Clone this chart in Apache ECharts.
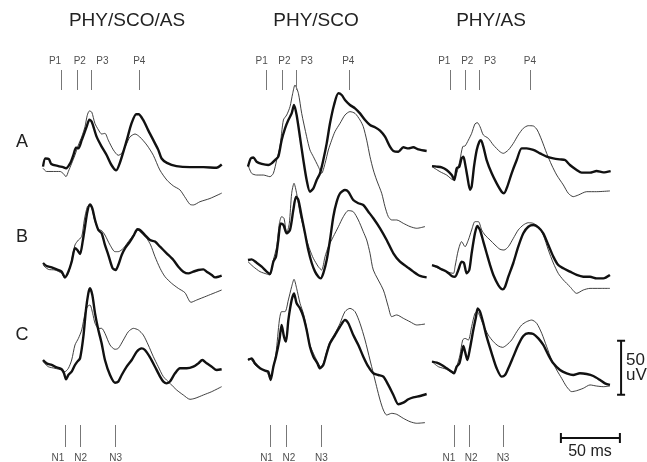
<!DOCTYPE html>
<html>
<head>
<meta charset="utf-8">
<script src="https://cdn.jsdelivr.net/npm/echarts@6/dist/echarts.min.js"></script>
<style>
html,body{margin:0;padding:0;background:#fff;}
#chart{width:647px;height:462px;}
</style>
</head>
<body>
<div id="chart"></div>
<script>
// conditions (columns) and recordings (rows)
var conditions = ['PHY/SCO/AS', 'PHY/SCO', 'PHY/AS'];
var rowNames = ['A', 'B', 'C'];
var peakNames = ['P1', 'P2', 'P3', 'P4'];
var troughNames = ['N1', 'N2', 'N3'];

// latency of the marker ticks (ms from trace start), one list per column
var peakTicks = [[15.3, 29.4, 41, 81.6], [15.8, 29, 41.3, 85.9], [15.8, 28.2, 40.1, 83]];
var peakLabelAt = [[10.2, 31.2, 50.4, 81.6], [11.6, 30.8, 49.8, 85], [10.4, 29.9, 49.2, 83]];
var troughTicks = [[18.8, 31.2, 60.9], [19.2, 32.5, 62.3], [19, 31.4, 60.2]];
var troughLabelAt = [[12.6, 31.9, 61.6], [15.7, 34.7, 62.3], [14.4, 33.1, 60.2]];

// scale bars
var scaleMs = 50;
var scaleUv = 50;

// waveforms: [ms, uV], thick = first trace, thin = second trace
var thickA1 = [[0,-1.5],[2,6],[5,5.5],[7,1],[13,-1],[17,-2],[19.5,-3],[23,1.5],[25.7,9],[28,16],[30,15.5],[32.8,23],[37,35.5],[39.3,42],[41.3,40],[45.5,26],[49.7,17],[54,9],[58,0],[62,-5],[65,1.5],[71,23],[75,38.5],[79,47],[81,47],[85,41.5],[89,32.5],[93.5,23],[97.7,14],[100.5,6],[105,2],[113,-1],[124.5,-2],[136,-2],[147,-2.5],[151.5,0.5]];
var thinA1 = [[0,-3],[3,-6],[9,-6],[14.4,-6],[17,-7.7],[19.5,-10.8],[21.5,-6],[24.3,1.5],[27,9],[30,18.5],[32.8,26],[35.6,35.5],[37.5,46],[39.3,50],[41.3,49],[44,38.5],[47,32.5],[49.7,28.7],[52.5,29.3],[55.3,23],[59.6,14],[63.8,9],[66.7,10.8],[71,20],[73.7,26],[78,28.7],[82,26],[88,18.5],[93.5,9],[99,-4.6],[105,-14],[110.5,-19.4],[116,-23],[120,-29.3],[124.5,-36.4],[127.4,-37],[133,-34],[141.5,-31],[151.5,-26]];
var thickA2 = [[0,-1.5],[2.3,6],[4.5,7],[7.3,3],[11.6,1],[17.2,0],[20,1.5],[22.9,4.6],[25.7,7.7],[28.5,23],[31.4,34],[34.2,41.7],[37,47.8],[39,55.6],[41.2,46.3],[44,26.2],[46.9,4.6],[49.7,-13.9],[52.5,-24.7],[55.4,-21.6],[58.2,-13.9],[61,-7.7],[63.8,4.6],[66.7,20],[69.5,38.6],[72.9,55.6],[76.6,66.4],[79.4,64.8],[82.2,60.2],[86.4,55.6],[90.7,52.5],[94.9,47.8],[99.2,41.7],[103.4,37],[107.6,34.9],[111.9,31.8],[116.1,26.2],[120.3,17],[123.2,13],[127.4,12.3],[131.6,16.4],[135.9,15.4],[140,16.4],[144.4,14.5],[151.4,13]];
var thinA2 = [[0,0],[3.1,-7.7],[7.3,-9.3],[13,-9.3],[18.6,-10.8],[21.5,-7.7],[24.3,4.6],[27.1,17],[30,41.7],[32.8,46.3],[35.6,54],[37.9,66.4],[39.8,74],[42.7,66.4],[45.5,47.8],[49.7,26.2],[52.5,13.9],[55.4,7.7],[59.6,-1.5],[62.4,-7.7],[65.3,1.5],[68.1,13.9],[70.9,23],[73.7,30.9],[78,38.6],[82.2,46.3],[86.4,49.4],[90.7,47.8],[94.9,41.7],[97.7,35.5],[100.6,23],[103.4,7.7],[106.2,-4.6],[109,-13.9],[113.3,-26.2],[116.1,-38.6],[118.9,-47.8],[121.8,-50.9],[126,-50.9],[131.6,-54],[137.3,-57],[143,-58.6],[150,-57]];
var thickA3 = [[0,-1],[4,-1.5],[8.2,-2.2],[12.4,-4.6],[16.7,-9.3],[18.9,-13.9],[20.9,-3.1],[23.2,-1.5],[25.1,6.2],[26.6,7.7],[28,1.5],[30,-10.8],[32.2,-23],[33.6,-20],[35.6,-1.5],[37.9,13.9],[40.1,21.6],[41.5,23],[43.5,17],[46.3,4.6],[50.6,-7.7],[54.8,-17],[59,-24.7],[61,-26.2],[63.8,-20],[67.5,-7.7],[71.8,4.6],[76,15.4],[80.2,15.4],[85.9,13.9],[91.5,10.8],[97.2,7.7],[102.8,6.2],[108.5,5.2],[112.7,4.6],[116.9,0],[122.6,-4.6],[126.8,-7.1],[133.9,-7.1],[139.5,-5.6],[145.2,-6.8],[151.4,-5.6]];
var thinA3 = [[0,-1.5],[6.8,-6.2],[12.4,-9.3],[18.1,-13.9],[20.9,-7.7],[23.7,4.6],[26,17],[28,17.6],[30.8,23],[33.6,29.3],[36.4,38],[38.4,39.2],[40.7,35.5],[43.5,27.8],[47.7,24.7],[52,18.5],[57.6,12.3],[60.4,10.8],[64.7,13.9],[68.9,20],[73.1,27.8],[77.4,34],[81.6,36.4],[85.9,36.1],[89.2,32.4],[93,23],[97.2,10.8],[101.4,0],[105.7,-9.3],[111.3,-18.5],[115.5,-26.2],[119.7,-29.3],[124,-27.8],[131.1,-24.7],[139.5,-24.7],[150.8,-24]];

var thickB1 = [[0,0],[3.1,-2.8],[7.3,-4],[11.6,-5.9],[15.8,-8],[18.6,-13.3],[21.5,-8],[24.3,1.2],[27.1,13.6],[29.1,12],[31.4,8.3],[33.6,19.8],[35.6,33.6],[37.6,47.5],[39.8,54.3],[41.8,50.6],[44.1,39.8],[46.9,30.6],[49.7,27.5],[52.5,16.7],[55.4,7.4],[59,-4.9],[61.6,-6.5],[63.8,-1.9],[66.7,7.4],[69.5,13.6],[73.7,19.8],[77.1,25.9],[80,31.2],[82.2,30.6],[86.4,25.9],[90.7,21.3],[94.9,19.8],[99.2,15.1],[104.8,9],[110.5,2.8],[114.7,-3.4],[118.9,-8],[123.2,-9.6],[127.4,-8],[131.6,-6.5],[135.9,-5.9],[138.7,-8],[143,-11.1],[145.8,-13.3],[148.6,-12.7],[151.4,-11.7]];
var thinB1 = [[0,-1.9],[4.5,-5.9],[10.2,-6.5],[15.8,-9.6],[18.6,-14.2],[21.5,-9.6],[24.3,2.8],[27.1,16.7],[30,21.3],[32.8,24.4],[35,39.8],[37.6,52.2],[39.8,54.3],[41.8,49],[44.1,38.3],[46.9,31.2],[49.7,30],[52.5,25.9],[56.8,16.7],[61,10.5],[63.8,10.5],[68.1,13.6],[72.3,19.8],[76.6,25.9],[80,30.6],[83.6,27.5],[87.9,22.8],[91.2,16.7],[94.9,5.9],[99.2,-4.9],[103.4,-12.7],[109,-18.8],[114.7,-23.5],[120.3,-27.5],[125.4,-36.4],[130.2,-34.3],[138.7,-30.6],[151.4,-25]];
var thickB2 = [[0,2.8],[3.1,3.4],[7.3,0.3],[11.6,-3.4],[15.8,-8],[18.6,-10.2],[21.5,1.2],[23.7,5.9],[25.7,21.3],[27.7,36.7],[30,35.2],[32.8,27.5],[35.6,30.6],[38.4,49],[40.7,61.4],[42.7,58.3],[45.5,42.9],[48.3,27.5],[51.1,12],[54,0],[56.8,-8],[59.6,-12.7],[61.6,-14.2],[63.8,-9.6],[66.7,2.8],[69.5,21.3],[72.3,42.9],[75.2,56.8],[78,64.5],[82.2,67.6],[85,66],[89.2,58.3],[93.5,55.3],[97.7,53.7],[102,47.5],[106.2,41.4],[111.9,32.1],[117.5,21.3],[123.2,9],[128.8,1.2],[134.5,-3.4],[140.1,-8],[145.8,-12],[151.4,-13.3]];
var thinB2 = [[0,1.2],[4.5,-3.4],[10.2,-8],[15.8,-10.2],[18.6,-11.1],[21.5,2.8],[24.3,15.1],[26.6,36.7],[28.5,42.9],[30.5,41.4],[32.8,27.5],[35,36.7],[37,64.5],[39,73.8],[41.2,64.5],[44.1,46],[46.9,33.6],[49.7,21.3],[52.5,12],[55.4,4.3],[59.6,-3.4],[62.4,-6.5],[65.3,5.9],[68.1,15.1],[72.3,24.4],[76.6,33.6],[80.8,42.9],[85,48.5],[89.2,47.5],[93.5,39.8],[97.7,29],[100.6,21.3],[103.4,9],[106.2,-6.5],[114.7,-25],[118.9,-40.5],[121.8,-49.7],[126,-48.1],[131.6,-51.2],[137.3,-54.4],[143,-57.4],[150,-56.5]];
var thickB3 = [[0,-1.9],[4,-3.4],[8.2,-5.9],[12.4,-8],[16.7,-12],[19.5,-12.7],[22.3,-6.5],[25.1,1.2],[27.1,0],[29.4,-9.6],[31.6,-6.5],[33.6,9],[36.4,27.5],[38.4,34.3],[40.7,30.6],[43.5,19.8],[46.3,9],[49.2,-1.9],[52,-11.1],[56.2,-20.4],[59.9,-24.4],[61.9,-21.9],[64.7,-12.7],[68.9,0],[73.1,15.1],[77.4,27.5],[81.6,33.6],[85.9,35.2],[90.1,33],[94.3,27.5],[98.6,16.7],[102.8,5.9],[107,-1.9],[111.3,-4.9],[116.9,-8],[122.6,-11.1],[128.2,-12.7],[133.9,-12.7],[139.5,-14.2],[145.2,-14.2],[150.8,-11.1]];
var thinB3 = [[0,-1.9],[5.4,-4.9],[12.4,-8],[18.1,-9.6],[19.5,-3.4],[22.3,12],[25.1,19.8],[28,15.1],[30.8,21.3],[33.6,30.6],[36.4,38.3],[39.3,38.3],[42.1,30.6],[44.9,25.9],[49.2,21.3],[53.4,16.7],[57.6,12.7],[61,12],[64.7,15.1],[68.9,22.8],[73.1,30.6],[77.4,35.2],[81.6,37.3],[85.9,36.7],[90.1,33.6],[94.3,25.9],[98.6,12],[102.8,0],[107,-9.6],[111.3,-15.7],[116.9,-21.9],[122.6,-28.1],[128.2,-25],[133.9,-23.5],[142.4,-23.5],[150.8,-23.5]];

var thickC1 = [[0,0],[3.1,-3.1],[7.3,-4.6],[11.6,-6.8],[15.8,-8.6],[17.8,-12.3],[19.5,-17.9],[21.5,-13.9],[24.3,-10.8],[27.1,-4.6],[29.1,-1.5],[31.4,1.5],[34.2,21.6],[36.4,46.3],[38.4,61.7],[39.8,66.4],[41.8,60.2],[44.1,43.2],[46.9,27.8],[49.7,15.4],[52.5,0],[56.8,-13.9],[61,-21],[63.8,-20],[66.7,-13.9],[70.9,-6.2],[75.2,0],[79.4,7.7],[83.6,10.8],[86.4,9.3],[90.7,2.5],[94.9,-6.2],[99.2,-15.4],[102,-20],[104.8,-21.6],[107.6,-20],[111.9,-12.3],[116.1,-7.7],[121.8,-7.7],[127.4,-6.2],[131.6,-3.1],[135,0],[138.7,-3.1],[143,-6.2],[147.2,-9.3],[151.4,-8.6]];
var thinC1 = [[0,-1.5],[4.5,-6.2],[10.2,-7.7],[15.8,-9.3],[18.6,-10.8],[21.5,-7.7],[24.3,0],[27.1,13.9],[30,20],[32.8,27.8],[35.6,43.2],[37.6,49.4],[39.8,50.9],[42.1,43.2],[44.1,34],[46.9,29.3],[49.7,29.3],[52.5,24.7],[56.8,13.9],[61,9.9],[63.8,10.8],[68.1,18.5],[72.3,26.2],[76.6,29.3],[80.8,27.8],[85,23.1],[89.2,13.9],[93.5,3.1],[97.7,-6.2],[102,-15.4],[107.6,-21.6],[113.3,-27.8],[118.9,-32.4],[124.6,-36.4],[128.8,-35.5],[135.9,-32.4],[143,-29.3],[151.4,-24.7]];
var thickC2 = [[0,0],[3.1,1.5],[5.9,-3.1],[10.2,-7.7],[14.4,-9.9],[17.2,-10.8],[19.2,-18.5],[21.5,-6.2],[23.7,3.1],[26.6,18.5],[28.5,32.4],[30.5,21.6],[32.2,17],[34.2,37],[37,55.6],[39,61.7],[41.2,52.5],[44.1,47.8],[46.9,40.1],[49.7,27.8],[52.5,12.3],[55.4,3.1],[58.8,-3.1],[61,-7.7],[63.8,-4.6],[66.7,6.2],[69.5,15.4],[73.7,23.1],[78,30.9],[82.2,37],[85,34],[89.2,23.1],[93.5,13.9],[97.7,3.1],[102,-6.2],[106.2,-12.3],[110.5,-13.9],[114.7,-15.4],[118.9,-23.1],[123.2,-32.4],[127.4,-41],[131.6,-39.5],[135.9,-36.4],[140.1,-34.6],[145.8,-33.3],[151.4,-31.5]];
var thinC2 = [[0,1.5],[3.1,0],[5.9,-4.6],[10.2,-7.7],[15.8,-10.8],[18.6,-17],[20.9,-9.3],[23.7,6.2],[26.6,37],[28.5,44.8],[31.4,44.8],[34.2,55.6],[37,67.9],[39,74.7],[41.2,66.4],[44.1,52.5],[46.9,43.2],[49.7,29.3],[52.5,13.9],[55.4,6.2],[58.8,-1.5],[61.6,-6.2],[63.8,-3.1],[66.7,7.7],[69.5,17],[73.7,24.7],[78,34],[82.2,44.8],[86.4,47.8],[90.7,44.8],[94.9,34],[99.2,18.5],[103.4,0],[106.2,-12.3],[109,-24.7],[111.9,-37],[114.7,-46.3],[117.5,-50.9],[121.8,-49.4],[126,-50.3],[131.6,-54],[137.3,-57.1],[143,-58.6],[150,-58]];
var thickC3 = [[0,-1.5],[4,-2.5],[8.2,-4.6],[12.4,-7.7],[16.7,-10.8],[18.6,-12.3],[20.9,-6.2],[23.2,-3.1],[25.1,6.2],[26.6,13],[28,7.7],[30,0],[32.2,10.8],[35,27.8],[37.3,40.1],[38.7,47.8],[40.7,44.8],[43.5,34],[46.3,21.6],[50.6,6.2],[54.8,-7.7],[59,-15.4],[61.9,-13.9],[64.7,-7.7],[68.9,3.1],[73.1,13.9],[77.4,22.2],[81.6,24.7],[85.9,24.1],[90.1,20],[94.3,13.9],[98.6,4.6],[102.8,-3.1],[108.5,-9.3],[114.1,-12.3],[119.7,-13.9],[125.4,-12.3],[131.1,-13],[136.7,-14.8],[142.4,-18.5],[146.6,-21.6],[150.8,-23.1]];
var thinC3 = [[0,-1.5],[5.4,-6.2],[12.4,-8.6],[18.1,-12.3],[20.9,-6.2],[23.7,4.6],[26,18.5],[28,20],[30.8,18.5],[33.6,30.9],[36.4,43.2],[38.4,44.8],[40.7,40.1],[43.5,32.4],[47.7,23.1],[52,17],[56.2,13],[59.9,11.7],[63.3,13.9],[67.5,18.5],[71.8,26.2],[76,32.4],[80.2,35.5],[84.5,37],[88.7,34],[93,24.7],[97.2,12.3],[101.4,0],[105.7,-9.3],[109.9,-17],[114.1,-24.7],[118.4,-29.3],[122.6,-28.4],[128.2,-26.2],[133.9,-23.1],[139.5,-24.1],[145.2,-24.7],[150.8,-24.1]];

var panels = [
    [[thickA1, thinA1], [thickA2, thinA2], [thickA3, thinA3]],
    [[thickB1, thinB1], [thickB2, thinB2], [thickB3, thinB3]],
    [[thickC1, thinC1], [thickC2, thinC2], [thickC3, thinC3]]
];

// layout
var PX_MS = 1.18, PX_UV = 1.08;
var colLeft = [43, 248, 432];
var rowZero = [165, 263, 360];
var T_MAX = 155, V_MAX = 80;
var FONT = "'Liberation Sans', Arial, sans-serif";

var grids = [], xAxes = [], yAxes = [], series = [];

function addGrid(g, xmin, xmax, ymin, ymax){
    grids.push(g);
    var i = grids.length - 1;
    xAxes.push({type:'value', gridIndex:i, min:xmin, max:xmax, show:false});
    yAxes.push({type:'value', gridIndex:i, min:ymin, max:ymax, show:false});
    return i;
}

for (var r = 0; r < 3; r++){
    for (var c = 0; c < 3; c++){
        var gi = addGrid({
            left: colLeft[c], top: rowZero[r] - V_MAX*PX_UV,
            width: T_MAX*PX_MS, height: 2*V_MAX*PX_UV
        }, 0, T_MAX, -V_MAX, V_MAX);
        series.push({
            type:'line', xAxisIndex:gi, yAxisIndex:gi, data: panels[r][c][1],
            showSymbol:false, smooth:0.25, z:2,
            lineStyle:{color:'#2a2a2a', width:0.9}
        });
        series.push({
            type:'line', xAxisIndex:gi, yAxisIndex:gi, data: panels[r][c][0],
            showSymbol:false, smooth:0.25, z:3,
            lineStyle:{color:'#111', width:2.4}
        });
    }
}

function markerRow(top, height, ticks, labelAt, names, above){
    for (var c = 0; c < 3; c++){
        var gi = addGrid({left: colLeft[c], top: top, width: T_MAX*PX_MS, height: height}, 0, T_MAX, 0, 1);
        series.push({
            type:'scatter', xAxisIndex:gi, yAxisIndex:gi, symbolSize:0, silent:true,
            data: labelAt[c].map(function(x, i){ return {name: names[i], value:[x, above ? 1 : 0]}; }),
            label:{show:true, formatter:'{b}', position: above ? 'top' : 'bottom', distance: above ? 4 : 6,
                   fontSize:10, color:'#222', fontFamily:FONT},
            markLine:{
                silent:true, symbol:['none','none'], label:{show:false},
                lineStyle:{color:'#777', width:1, type:'solid'},
                data: ticks[c].map(function(t){ return {xAxis:t}; })
            }
        });
    }
}
markerRow(70, 20, peakTicks, peakLabelAt, peakNames, true);
markerRow(425, 22, troughTicks, troughLabelAt, troughNames, false);

// scale bars in the same ms / uV units
var sg = addGrid({left:555, top:330, width:60*PX_MS, height:110*PX_UV}, 0, 60, -50, 60);
var hBarY = -40, hBarX = 5, vBarX = 56;
var bars = [
    [[hBarX, hBarY], [hBarX + scaleMs, hBarY]],
    [[hBarX, hBarY + 4.6], [hBarX, hBarY - 4.6]],
    [[hBarX + scaleMs, hBarY + 4.6], [hBarX + scaleMs, hBarY - 4.6]],
    [[vBarX, 0], [vBarX, scaleUv]],
    [[vBarX - 3.4, 0], [vBarX + 3.4, 0]],
    [[vBarX - 3.4, scaleUv], [vBarX + 3.4, scaleUv]]
];
bars.forEach(function(seg){
    series.push({type:'line', xAxisIndex:sg, yAxisIndex:sg, data:seg, showSymbol:false, silent:true,
                 lineStyle:{color:'#111', width:2}});
});

var texts = [];
var titleX = [127, 316, 491];
conditions.forEach(function(t, i){
    texts.push({type:'text', left: titleX[i], top: 21, style:{text:t, font:'19px ' + FONT, fill:'#222', textAlign:'center', textVerticalAlign:'middle'}});
});
var rowLabelY = [142, 237, 335];
rowNames.forEach(function(t, i){
    texts.push({type:'text', x: 22, y: rowLabelY[i], style:{text:t, font:'18px ' + FONT, fill:'#222', textAlign:'center', textVerticalAlign:'middle'}});
});
texts.push({type:'text', x:626, y:360, style:{text:String(scaleUv), font:'17px ' + FONT, fill:'#222', textVerticalAlign:'middle'}});
texts.push({type:'text', x:626, y:375, style:{text:'uV', font:'17px ' + FONT, fill:'#222', textVerticalAlign:'middle'}});
texts.push({type:'text', x:590, y:452, style:{text:scaleMs + ' ms', font:'16px ' + FONT, fill:'#222', textAlign:'center', textVerticalAlign:'middle'}});
texts.forEach(function(t){
    if (t.left !== undefined){ t.x = t.left; t.y = t.top; delete t.left; delete t.top; }
});

var chart = echarts.init(document.getElementById('chart'), null, {renderer:'canvas'});
chart.setOption({
    animation:false,
    backgroundColor:'#fff',
    grid:grids,
    xAxis:xAxes,
    yAxis:yAxes,
    series:series,
    graphic:texts
});
</script>
</body>
</html>
